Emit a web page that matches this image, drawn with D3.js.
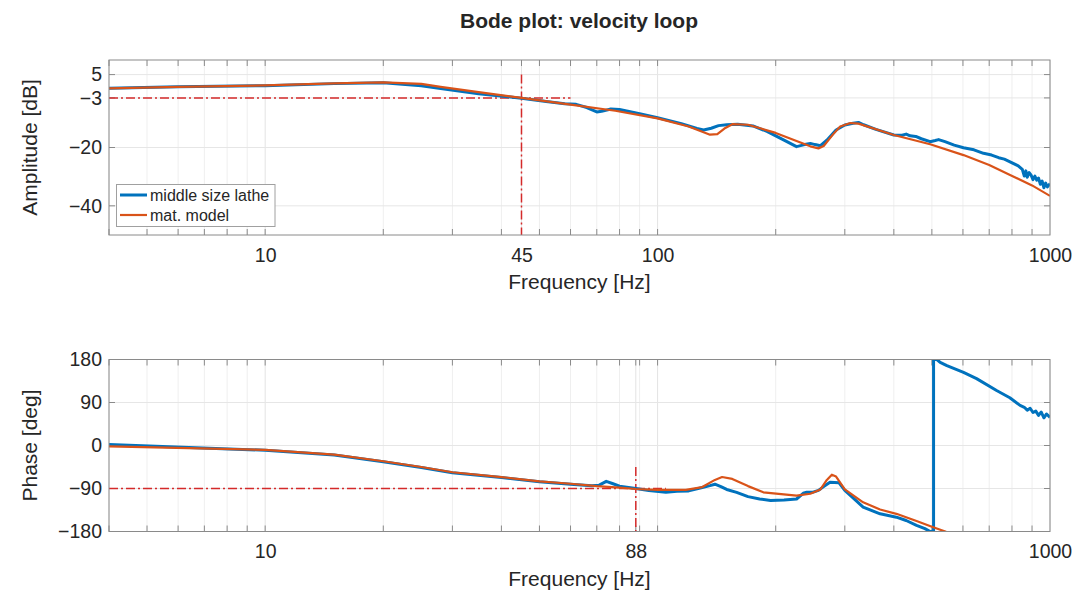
<!DOCTYPE html>
<html>
<head>
<meta charset="utf-8">
<script src="https://cdn.jsdelivr.net/npm/d3@7"></script>
<style>
  body { margin: 0; background: #fff; }
  svg text { font-family: Helvetica, Arial, "Liberation Sans", sans-serif; fill: #262626; }
  .tickLb { font-size: 19.5px; }
  .axisLb { font-size: 21px; text-anchor: middle; }
  .title { font-size: 21px; font-weight: bold; text-anchor: middle; }
  .legendLb { font-size: 16px; }
</style>
</head>
<body>
<div id="main"></div>
<script>
// ---- data ----
// amplitude, measured (middle size lathe)
const ampLatheF = [4, 6, 10, 15, 20, 25, 28, 35, 45, 52, 58, 62, 66, 70, 72, 76, 80, 90, 100, 115, 126, 131, 137, 143, 150, 160, 175, 190, 210, 226, 237, 245, 252, 260, 270, 285, 300, 315, 325, 335, 360, 400, 420, 430, 440, 455, 470, 495, 510, 520, 540, 570, 602, 640, 677, 710, 740, 765, 791, 830, 850, 860, 868, 875, 885, 895, 905, 915, 925, 935, 945, 955, 965, 975, 985, 1000];
const ampLatheV = [0.3, 0.8, 1.2, 1.9, 2.2, 1.2, 0.2, -1.6, -3.1, -4.2, -5.0, -5.2, -6.3, -7.8, -7.6, -6.8, -7.0, -8.4, -9.8, -11.8, -13.5, -14.0, -13.4, -12.5, -12.2, -12.0, -12.6, -14.5, -17.5, -19.7, -19.0, -18.6, -19.0, -19.4, -17.5, -14.0, -12.3, -11.7, -11.4, -12.2, -13.8, -15.7, -15.8, -15.4, -16.0, -16.2, -17.0, -18.0, -17.6, -17.3, -18.0, -19.2, -20.1, -20.8, -22.0, -22.6, -23.5, -24.0, -24.9, -26.3, -27.5, -29.8, -28.0, -30.2, -28.6, -29.5, -31.0, -29.8, -31.2, -30.5, -32.6, -31.5, -33.8, -32.2, -33.5, -32.4];
// amplitude, model
const ampModelF = [4, 6, 10, 15, 20, 25, 28, 35, 45, 60, 78, 100, 120, 131, 136, 142, 148, 155, 170, 200, 226, 245, 257, 265, 280, 292, 310, 325, 400, 495, 602, 700, 791, 900, 1000];
const ampModelV = [0.3, 0.8, 1.3, 2.0, 2.3, 1.8, 0.8, -1.0, -3.0, -5.3, -7.4, -10.0, -12.8, -14.8, -15.6, -15.4, -13.5, -12.0, -12.2, -15.0, -17.8, -19.6, -20.3, -19.5, -15.5, -12.8, -11.6, -11.8, -15.7, -18.9, -22.6, -26.0, -29.4, -33.0, -36.6];
// phase, measured
const phLatheF = [4, 10, 15, 20, 25, 30, 40, 50, 60, 68, 71, 74, 77, 80, 88, 95, 105, 112, 120, 130, 136, 140, 145, 150, 159, 170, 182, 194, 210, 226, 235, 240, 248, 257, 265, 275, 290, 300, 320, 334, 369, 406, 430, 457, 480, 495, 505, 505, 515, 525, 546, 602, 650, 731, 790, 839, 860, 875, 890, 905, 920, 935, 950, 965, 980, 1000];
const phLatheV = [2, -10, -20, -34, -46, -57, -67, -76, -81, -84, -83, -75, -80, -85, -90, -94, -98, -96, -95, -88, -84, -81, -86, -92, -98, -107, -112, -115, -114, -112, -100, -98, -98, -94, -86, -77, -78, -94, -115, -129, -143, -150, -157, -167, -174, -180, -180, 180, 180, 174, 167, 153, 140, 115, 100, 84, 80, 74, 78, 69, 72, 63, 70, 58, 66, 59];
// phase, model
const phModelF = [4, 10, 15, 20, 25, 30, 40, 50, 60, 70, 80, 88, 100, 118, 130, 140, 146, 155, 170, 186, 226, 245, 260, 270, 278, 285, 300, 334, 369, 406, 457, 500, 541, 570];
const phModelV = [-2, -9, -19, -33, -45, -56, -66, -75, -80, -85, -88, -91, -93, -93, -87, -72, -66, -70, -85, -98, -105, -101, -92, -72, -61, -65, -92, -119, -134, -143, -158, -170, -180, -190];

// axis ticks
const ampTicks = [5, -3, -20, -40];
const phTicks = [180, 90, 0, -90, -180];
const ampFreqTicks = [10, 45, 100, 1000];
const phFreqTicks = [10, 88, 1000];

// marker lines (-3 dB bandwidth, -90 deg crossing)
const ampMarkH = {f: [4, 60], v: [-3, -3]};
const ampMarkV = {f: [45, 45], v: [5, -50]};
const phMarkH = {f: [4, 105], v: [-90, -90]};
const phMarkV = {f: [88, 88], v: [-45, -180]};

const ctx = {
    w: 1077,
    h: 591,
    x0: 109, x1: 1050,
    blue: "#0072BD",
    orange: "#D95319",
    red: "#D42A2A",
};

function zipPts(fs, vs){
    return fs.map((f, i) => [f, vs[i]]);
}

function drawPanel(svg, cfg){
    let xScale = d3.scaleLog().domain([4, 1000]).range([ctx.x0, ctx.x1]);
    let yScale = d3.scaleLinear().domain(cfg.yDomain).range([cfg.yBottom, cfg.yTop]);
    let g = svg.append("g").attr("id", cfg.id);

    // minor + major frequency grid
    let gridF = [];
    [1, 10, 100].forEach(function(dec){
        for (let k = 1; k < 10; k++) {
            let f = k * dec;
            if (f >= 4) gridF.push(f);
        }
    });
    gridF.push(1000);
    cfg.xTicks.forEach((f) => { if (!gridF.includes(f)) gridF.push(f); });

    g.append("g").selectAll("line")
      .data(gridF)
      .enter().append("line")
      .attr("x1", (d) => xScale(d)).attr("x2", (d) => xScale(d))
      .attr("y1", cfg.yTop).attr("y2", cfg.yBottom)
      .style("stroke", (d) => ([10, 100, 1000].includes(d) || cfg.xTicks.includes(d)) ? "#e3e3e3" : "#efefef")
      .style("stroke-width", 1);
    g.append("g").selectAll("line")
      .data(cfg.yTicks)
      .enter().append("line")
      .attr("x1", ctx.x0).attr("x2", ctx.x1)
      .attr("y1", (d) => yScale(d)).attr("y2", (d) => yScale(d))
      .style("stroke", "#e6e6e6");

    // small inward ticks on all four sides
    let tickG = g.append("g").style("stroke", "#8a8a8a").style("stroke-width", 1);
    gridF.forEach(function(f){
        if (f === 1000) return;
        tickG.append("line").attr("x1", xScale(f)).attr("x2", xScale(f))
             .attr("y1", cfg.yBottom).attr("y2", cfg.yBottom - 6);
        tickG.append("line").attr("x1", xScale(f)).attr("x2", xScale(f))
             .attr("y1", cfg.yTop).attr("y2", cfg.yTop + 6);
    });
    cfg.yTicks.forEach(function(v){
        tickG.append("line").attr("x1", ctx.x0).attr("x2", ctx.x0 + 6)
             .attr("y1", yScale(v)).attr("y2", yScale(v));
        tickG.append("line").attr("x1", ctx.x1).attr("x2", ctx.x1 - 6)
             .attr("y1", yScale(v)).attr("y2", yScale(v));
    });

    // clip for curves
    svg.append("clipPath").attr("id", cfg.id + "Clip")
       .append("rect")
       .attr("x", ctx.x0).attr("y", cfg.yTop)
       .attr("width", ctx.x1 - ctx.x0).attr("height", cfg.yBottom - cfg.yTop);

    let line = d3.line().x((d) => xScale(d[0])).y((d) => yScale(d[1]));
    let curves = g.append("g").attr("clip-path", `url(#${cfg.id}Clip)`);

    // dash-dot marker lines
    [cfg.markH, cfg.markV].forEach(function(m){
        curves.append("path")
          .attr("d", line(zipPts(m.f, m.v)))
          .style("fill", "none")
          .style("stroke", ctx.red)
          .style("stroke-width", 1.5)
          .style("stroke-dasharray", "9,3,2,3");
    });

    curves.append("path")
      .attr("d", line(zipPts(cfg.latheF, cfg.latheV)))
      .style("fill", "none")
      .style("stroke", ctx.blue)
      .style("stroke-width", 3)
      .style("stroke-linejoin", "round");
    curves.append("path")
      .attr("d", line(zipPts(cfg.modelF, cfg.modelV)))
      .style("fill", "none")
      .style("stroke", ctx.orange)
      .style("stroke-width", 2.2)
      .style("stroke-linejoin", "round");

    // box
    g.append("rect")
      .attr("x", ctx.x0).attr("y", cfg.yTop)
      .attr("width", ctx.x1 - ctx.x0).attr("height", cfg.yBottom - cfg.yTop)
      .style("fill", "none")
      .style("stroke", "#8a8a8a")
      .style("stroke-width", 1);

    // tick labels
    let xAx = g.append("g")
      .attr("transform", `translate(0,${cfg.yBottom})`)
      .call(d3.axisBottom(xScale).tickValues(cfg.xTicks).tickFormat(d3.format("d"))
              .tickSize(0).tickPadding(13));
    xAx.select(".domain").remove();
    xAx.selectAll("text").attr("class", "tickLb").attr("fill", null);

    let yAx = g.append("g")
      .attr("transform", `translate(${ctx.x0},0)`)
      .call(d3.axisLeft(yScale).tickValues(cfg.yTicks).tickSize(0).tickPadding(7));
    yAx.select(".domain").remove();
    yAx.selectAll("text").attr("class", "tickLb").attr("fill", null);

    // axis labels
    g.append("text")
      .attr("x", (ctx.x0 + ctx.x1) / 2)
      .attr("y", cfg.yBottom + 54)
      .classed("axisLb", true)
      .text("Frequency [Hz]");
    g.append("text")
      .attr("transform", `translate(37,${(cfg.yTop + cfg.yBottom) / 2}) rotate(-90)`)
      .classed("axisLb", true)
      .text(cfg.yLabel);
}

function drawLegend(svg){
    let lg = svg.append("g").attr("id", "legend");
    lg.append("rect")
      .attr("x", 116.5).attr("y", 184.5)
      .attr("width", 158.5).attr("height", 42)
      .style("fill", "#fff")
      .style("stroke", "#a0a0a0")
      .style("stroke-width", 1);
    let items = [
        {name: "middle size lathe", color: ctx.blue, sw: 3},
        {name: "mat. model", color: ctx.orange, sw: 2.2},
    ];
    items.forEach(function(it, i){
        let y = 195 + i * 20;
        lg.append("line")
          .attr("x1", 120).attr("x2", 147)
          .attr("y1", y).attr("y2", y)
          .style("stroke", it.color)
          .style("stroke-width", it.sw);
        lg.append("text")
          .attr("x", 150).attr("y", y + 5.5)
          .classed("legendLb", true)
          .text(it.name);
    });
}

function createViz(){
    let svg = d3.select("#main").append("svg")
      .attr("width", ctx.w).attr("height", ctx.h);

    svg.append("text")
      .attr("x", 579).attr("y", 28)
      .classed("title", true)
      .text("Bode plot: velocity loop");

    drawPanel(svg, {
        id: "amp",
        yDomain: [-50, 10], yTop: 60, yBottom: 235,
        yTicks: ampTicks, xTicks: ampFreqTicks,
        yLabel: "Amplitude [dB]",
        latheF: ampLatheF, latheV: ampLatheV,
        modelF: ampModelF, modelV: ampModelV,
        markH: ampMarkH, markV: ampMarkV,
    });
    drawPanel(svg, {
        id: "phase",
        yDomain: [-180, 180], yTop: 359.5, yBottom: 531.5,
        yTicks: phTicks, xTicks: phFreqTicks,
        yLabel: "Phase [deg]",
        latheF: phLatheF, latheV: phLatheV,
        modelF: phModelF, modelV: phModelV,
        markH: phMarkH, markV: phMarkV,
    });
    drawLegend(svg);
}

createViz();
</script>
</body>
</html>
